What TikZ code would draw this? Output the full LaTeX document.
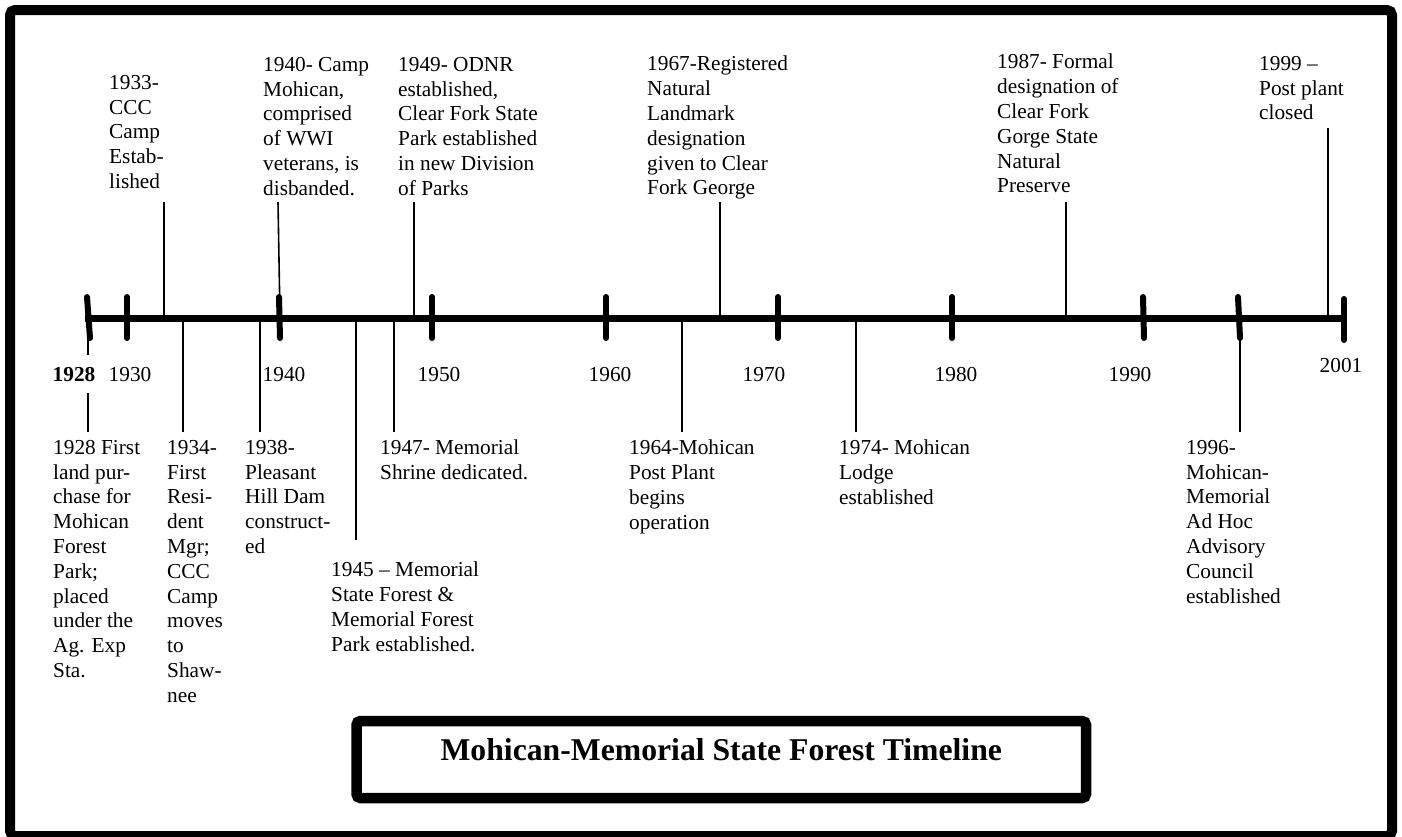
\documentclass[tikz,border=0pt]{standalone}
\usepackage{fontspec}
\setmainfont{Liberation Serif}
\begin{document}
\begin{tikzpicture}[x=1pt,y=-1pt,
  ev/.style={anchor=north west, inner sep=0pt, align=left, font=\fontsize{21.3}{24.8}\selectfont},
  yr/.style={anchor=base, inner sep=0pt, font=\fontsize{21.3}{24.8}\selectfont},
  conn/.style={line width=1.6pt},
  major/.style={line width=6pt, line cap=round},
  axisline/.style={line width=7pt},
  frame/.style={line width=10pt, rounded corners=5pt}]
\useasboundingbox (0,0) rectangle (1402,836);
\fill[white] (0,0) rectangle (1402,836);
\draw[frame] (10,10) rectangle (1392,836);

% axis
\coordinate (axL) at (85,318);
\coordinate (axR) at (1344,318);
\draw[axisline] (axL) -- (axR);

% major ticks
\draw[major] (87,297) -- (90,338);
\draw[major] (127,297) -- (127,338);
\draw[major] (279,297) -- (280,338);
\draw[major] (432,297) -- (432,338);
\draw[major] (606,297) -- (606,338);
\draw[major] (778,297) -- (778,338);
\draw[major] (952,297) -- (952,338);
\draw[major] (1143,297) -- (1144,338);
\draw[major] (1238,297) -- (1240,338);
\draw[major] (1344,299) -- (1344,340);

% year labels
\node[yr, inner ysep=11.6pt, font=\fontsize{21.3}{24.8}\selectfont\bfseries] (y1928) at (74,381) {1928};
\node[yr] (y1930) at (130,381) {1930};
\node[yr] (y1940) at (284,381) {1940};
\node[yr] (y1950) at (439,381) {1950};
\node[yr] (y1960) at (610,381) {1960};
\node[yr] (y1970) at (764,381) {1970};
\node[yr] (y1980) at (956,381) {1980};
\node[yr] (y1990) at (1130,381) {1990};
\node[yr] (y2001) at (1341,372) {2001};

% events above
\node[ev] (e1933) at (109,75) {1933-\\CCC\\Camp\\Estab-\\lished};
\node[ev] (e1940) at (263,57) {1940- Camp\\Mohican,\\comprised\\of WWI\\veterans, is\\disbanded.};
\node[ev] (e1949) at (398,57) {1949- ODNR\\established,\\Clear Fork State\\Park established\\in new Division\\of Parks};
\node[ev] (e1967) at (647,56) {1967-Registered\\Natural\\Landmark\\designation\\given to Clear\\Fork George};
\node[ev] (e1987) at (997,54) {1987- Formal\\designation of\\Clear Fork\\Gorge State\\Natural\\Preserve};
\node[ev] (e1999) at (1259,56) {1999 –\\Post plant\\closed};

% events below
\node[ev] (e1928) at (53,440) {1928 First\\land pur-\\chase for\\Mohican\\Forest\\Park;\\placed\\under the\\Ag. Exp\\Sta.};
\node[ev] (e1934) at (167,440) {1934-\\First\\Resi-\\dent\\Mgr;\\CCC\\Camp\\moves\\to\\Shaw-\\nee};
\node[ev] (e1938) at (245,440) {1938-\\Pleasant\\Hill Dam\\construct-\\ed};
\node[ev] (e1945) at (331,562) {1945 – Memorial\\State Forest \&\\Memorial Forest\\Park established.};
\node[ev] (e1947) at (380,440) {1947- Memorial\\Shrine dedicated.};
\node[ev] (e1964) at (629,440) {1964-Mohican\\Post Plant\\begins\\operation};
\node[ev] (e1974) at (839,440) {1974- Mohican\\Lodge\\established};
\node[ev] (e1996) at (1186,440) {1996-\\Mohican-\\Memorial\\Ad Hoc\\Advisory\\Council\\established};

% connector coordinates (above)
\coordinate (a1933) at (164,318); \coordinate (t1933) at (164,202);
\coordinate (a1940) at (280,318); \coordinate (t1940) at (278,202);
\coordinate (a1949) at (414,318); \coordinate (t1949) at (414,202);
\coordinate (a1967) at (720,318); \coordinate (t1967) at (720,202);
\coordinate (a1987) at (1066,318); \coordinate (t1987) at (1066,202);
\coordinate (a1999) at (1328,318); \coordinate (t1999) at (1328,128);
\draw[conn] (t1933) -- (a1933);
\draw[conn] (t1940) -- (a1940);
\draw[conn] (t1949) -- (a1949);
\draw[conn] (t1967) -- (a1967);
\draw[conn] (t1987) -- (a1987);
\draw[conn] (t1999) -- (a1999);

% connector coordinates (below)
\coordinate (a1928) at (88,338); \coordinate (b1928) at (88,432);
\coordinate (a1934) at (183,318); \coordinate (b1934) at (183,432);
\coordinate (a1938) at (260,318); \coordinate (b1938) at (260,432);
\coordinate (a1945) at (356,318); \coordinate (b1945) at (356,540);
\coordinate (a1947) at (394,318); \coordinate (b1947) at (394,432);
\coordinate (a1964) at (682,318); \coordinate (b1964) at (682,432);
\coordinate (a1974) at (856,318); \coordinate (b1974) at (856,432);
\coordinate (a1996) at (1240,318); \coordinate (b1996) at (1240,432);
\draw[conn] (a1928) -- (a1928 |- y1928.north);
\draw[conn] (b1928 |- y1928.south) -- (b1928);
\draw[conn] (a1934) -- (b1934);
\draw[conn] (a1938) -- (b1938);
\draw[conn] (a1945) -- (b1945);
\draw[conn] (a1947) -- (b1947);
\draw[conn] (a1964) -- (b1964);
\draw[conn] (a1974) -- (b1974);
\draw[conn] (a1996) -- (b1996);

% title box
\node[draw, line width=10.5pt, rounded corners=4pt, minimum width=729.5pt, minimum height=77pt,
      inner sep=0pt, text height=22pt, text depth=21pt,
      font=\fontsize{31.7}{36}\selectfont\bfseries] (title) at (721.25,759.5)
      {Mohican-Memorial State Forest Timeline};
\end{tikzpicture}
\end{document}
